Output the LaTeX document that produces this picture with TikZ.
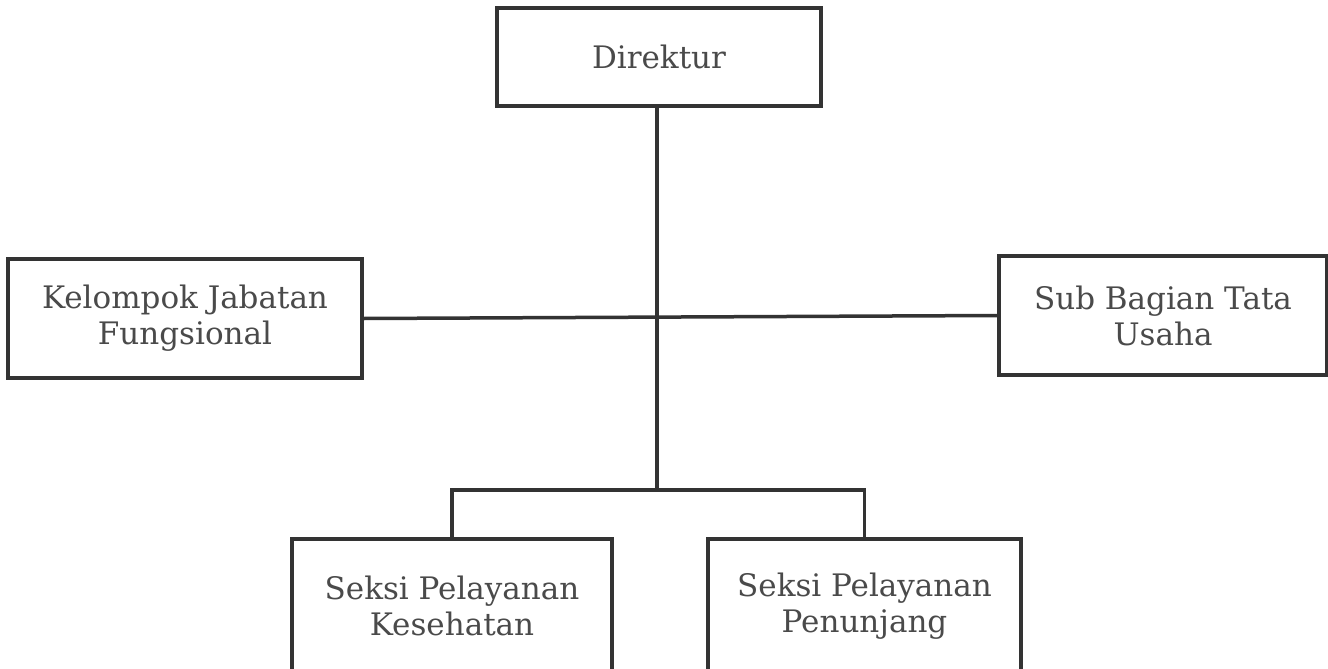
\documentclass[tikz,border=0pt]{standalone}
\usepackage{fontspec}
\setmainfont{DejaVu Serif}
\definecolor{boxline}{HTML}{333333}
\definecolor{txt}{HTML}{4A4A4A}
\begin{document}
\begin{tikzpicture}[x=1pt,y=-1pt,
  unit/.style={draw=boxline, line width=3.5pt, rectangle, inner sep=0pt,
    align=center, text=txt, font=\fontsize{31}{36}\selectfont},
  link/.style={draw=boxline, line width=3.5pt}]
\useasboundingbox (0,0) rectangle (1328,669);
\fill[white] (0,0) rectangle (1328,669);
\node[unit, minimum width=324pt, minimum height=98pt] (dir) at (659,57) {Direktur};
\node[unit, minimum width=354pt, minimum height=119pt] (kjf) at (185,318.5) {Kelompok Jabatan\\Fungsional};
\node[unit, minimum width=328pt, minimum height=119pt] (sbt) at (1163,315.5) {Sub Bagian Tata\\Usaha};
\node[unit, minimum width=320pt, minimum height=134pt] (spk) at (452,606) {Seksi Pelayanan\\Kesehatan};
\node[unit, minimum width=313pt, minimum height=134pt] (spp) at (864.5,606) {Seksi Pelayanan\\Penunjang};
\coordinate (top) at (657,106);
\coordinate (mid) at (657,490);
\coordinate (bl) at (452,490);
\coordinate (br) at (864.5,490);
\draw[link] (top) -- (mid);
\draw[link] (kjf.east) -- (sbt.west);
\draw[link] (spk.north) -- (bl) -- (br) -- (spp.north);
\end{tikzpicture}
\end{document}
